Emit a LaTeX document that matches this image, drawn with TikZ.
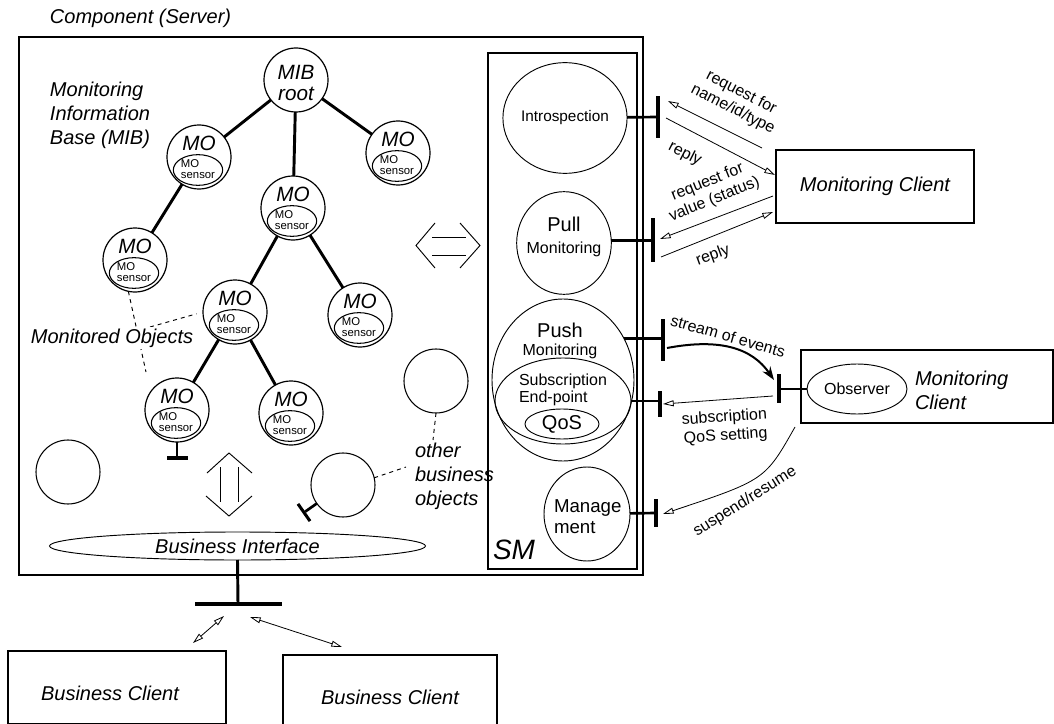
\documentclass[tikz,border=0pt]{standalone}
\usepackage{fontspec}
\setmainfont{Liberation Sans}
\usetikzlibrary{arrows.meta,shapes.geometric,calc}
\newcommand\moobj[3]{%
  \node[mocirc] (#1) at (#2,#3) {};
  \node[mosens] (#1s) at ($(#1.center)+(-1,13)$) {};
  \node[motxt] (#1t) at ($(#1.center)+(0,-14)$) {MO};
  \node[senstxt] (#1st) at ($(#1.center)+(-1,12)$) {MO\\sensor};
}
\begin{document}
\begin{tikzpicture}[x=0.75pt,y=-0.75pt,
  every node/.style={inner sep=0pt, outer sep=0pt},
  thinl/.style={line width=0.7pt},
  frame/.style={draw, line width=0.8pt, anchor=north west},
  bigit/.style={font=\fontsize{15}{18}\selectfont\itshape},
  mocirc/.style={circle, draw, line width=0.9pt, minimum size=48pt},
  plaincirc/.style={circle, draw, line width=0.8pt, minimum size=48pt},
  mosens/.style={ellipse, draw, line width=0.8pt, minimum width=37pt, minimum height=23pt},
  motxt/.style={font=\fontsize{15.5}{16}\selectfont\itshape, align=center},
  senstxt/.style={font=\fontsize{8.5}{8.3}\selectfont, align=left},
  branch/.style={line width=2.2pt},
  stem/.style={line width=2pt},
  tbar/.style={fill=black, minimum width=2.3pt},
  htbar/.style={fill=black, minimum height=2.3pt},
  smobj/.style={ellipse, draw, line width=0.7pt},
  bigf/.style={font=\fontsize{15}{16}\selectfont},
  midf/.style={font=\fontsize{12}{13}\selectfont},
  msg/.style={line width=0.6pt, -{Triangle[open,length=8pt,width=4.5pt]}},
  bmsg/.style={line width=0.6pt, {Triangle[open,length=8pt,width=4.5pt]}-{Triangle[open,length=8pt,width=4.5pt]}},
  lbl/.style={font=\fontsize{12}{14}\selectfont, align=center},
  dashl/.style={line width=0.7pt, dash pattern=on 3pt off 3pt}
]
\useasboundingbox (0,0) rectangle (1054,724);

% frames
\node[bigit, anchor=west] (complbl) at (50,18) {Component (Server)};
\node[frame, minimum width=468pt, minimum height=403.5pt] (comp) at (19,37) {};
\node[frame, minimum width=111.75pt, minimum height=387pt] (sm) at (488,53) {};
\node[font=\fontsize{21}{21}\selectfont\itshape] (smlbl) at (514,550) {SM};

% MIB label
\node[bigit, align=left, anchor=west] (miblbl) at (50,115) {Monitoring\\Information\\Base (MIB)};

% tree
\node[mocirc] (root) at (296,80) {};
\node[motxt] (roott) at (296,83) {MIB\\root};
\moobj{mo1}{199}{157}
\moobj{mo2}{398}{153}
\moobj{mo3}{293}{208}
\moobj{mo4}{135}{260}
\moobj{mo5}{235}{312}
\moobj{mo6}{360}{315}
\moobj{mo7}{177}{410}
\moobj{mo8}{291}{413}
\draw[branch] (root) -- (mo1);
\draw[branch] (root) -- (mo2);
\draw[branch] (root) -- (mo3);
\draw[branch] (mo1) -- (mo4);
\draw[branch] (mo3) -- (mo5);
\draw[branch] (mo3) -- (mo6);
\draw[branch] (mo5) -- (mo7);
\draw[branch] (mo5) -- (mo8);

% monitored objects label and dashed links
\coordinate (mA) at (146,372);
\coordinate (mB) at (150,327);
\draw[dashl] (mo4.258) -- (mA);
\draw[dashl, shorten >=5pt] (mB) -- (mo5.west);
\node[bigit, fill=white, inner sep=1pt] (molbl) at (112,338) {Monitored Objects};

% T under mo7
\node[htbar, minimum width=15.75pt] (mo7b) at (177,458) {};
\draw[stem] (mo7.south) -- (mo7b);

% other business objects
\node[plaincirc] (ob1) at (68,472) {};
\node[plaincirc] (ob2) at (343,485) {};
\node[plaincirc] (ob3) at (436,381) {};
\node[bigit, align=left, anchor=north west] (oblbl) at (415,443) {other\\business\\objects};
\coordinate (oA) at (433,440);
\coordinate (oB) at (406,467);
\draw[dashl] (ob3.south) -- (oA);
\draw[dashl] (ob2.13) -- (oB);
\node[tbar, minimum height=15.75pt, rotate=35] (ob2b) at (304,512.5) {};
\draw[stem] (ob2) -- (ob2b);

% double arrows
\draw[thinl] (435,223) -- (416,245.5) -- (435,268);
\draw[thinl] (460,223) -- (480,245.5) -- (460,268);
\draw[thinl] (432,237) -- (466,237);
\draw[thinl] (432,255) -- (466,255);
\draw[thinl] (207,473) -- (229,453) -- (252,473);
\draw[thinl] (206,496) -- (229,516) -- (252,496);
\draw[thinl] (220,467) -- (220,502);
\draw[thinl] (238,467) -- (238,502);

% business interface
\node[ellipse, draw, line width=0.7pt, minimum width=282pt, minimum height=21pt, font=\fontsize{15}{16}\selectfont\itshape] (bi) at (237.5,546) {Business Interface};
\node[htbar, minimum width=65.25pt, minimum height=2.6pt] (bib) at (238,604) {};
\draw[line width=2.2pt] (bi.south) -- (bib.center);

% business clients
\node[frame, minimum width=163.5pt, minimum height=54.4pt] (bc1) at (8,651) {};
\node[bigit] (bc1t) at (110,693) {Business Client};
\node[frame, minimum width=160.5pt, minimum height=52pt] (bc2) at (283,655) {};
\node[bigit] (bc2t) at (390,697) {Business Client};
\coordinate (b1a) at (224,616);
\coordinate (b1b) at (193,643);
\coordinate (b2a) at (250,617);
\coordinate (b2b) at (342,647);
\draw[bmsg] (b1a) -- (b1b);
\draw[bmsg] (b2a) -- (b2b);

% SM services
\node[smobj, minimum width=78pt, minimum height=83pt, font=\fontsize{11.5}{12}\selectfont] (intro) at (565,118) {Introspection};
\node[smobj, minimum width=71pt, minimum height=77pt] (pull) at (564,243) {};
\node[bigf] (pullt1) at (564,224) {Pull};
\node[midf] (pullt2) at (564,249) {Monitoring};
\node[smobj, minimum width=106.5pt, minimum height=121.5pt] (push) at (563,380) {};
\node[bigf] (pusht1) at (560,330) {Push};
\node[midf] (pusht2) at (560,351) {Monitoring};
\node[smobj, minimum width=102pt, minimum height=64.5pt] (sub) at (563,401) {};
\node[align=left, anchor=west, font=\fontsize{12}{12.75}\selectfont] (subt) at (519,389.5) {Subscription\\End-point};
\node[smobj, minimum width=55.5pt, minimum height=22.5pt, font=\fontsize{15}{16}\selectfont] (qos) at (562,424) {QoS};
\node[smobj, minimum width=64.5pt, minimum height=70.5pt] (mgmt) at (587,514) {};
\node[align=left, anchor=west, font=\fontsize{14}{15.75}\selectfont] (mgmtt) at (554,516.5) {Manage\\ment};

% T bars of SM
\node[tbar, minimum height=32pt] (ib) at (658,117) {};
\draw[stem] (intro) -- (ib);
\node[tbar, minimum height=33pt] (pb) at (653,240) {};
\draw[stem] (pull.3) -- (pull.3 -| pb.center);
\node[tbar, minimum height=32pt] (pushb) at (663,340) {};
\draw[stem] (push.34) -- (push.34 -| pushb.center);
\node[tbar, minimum height=20pt] (subb) at (660,404) {};
\draw[stem] (sub.east) -- (sub.east -| subb.center);
\node[tbar, minimum height=21pt] (mb) at (656,513) {};
\draw[stem] (mgmt) -- (mb);

% monitoring clients
\node[frame, minimum width=148.5pt, minimum height=54.75pt, font=\fontsize{15}{16}\selectfont\itshape, anchor=center] (mc1) at (875,186.5) {Monitoring Client};
\node[frame, minimum width=189pt, minimum height=54.75pt] (mc2) at (801,350) {};
\node[bigit, align=left, anchor=west] (mc2t) at (915,390) {Monitoring\\Client};
\node[smobj, minimum width=75pt, minimum height=37.5pt, font=\fontsize{12}{13}\selectfont] (obs) at (857,389) {Observer};
\node[tbar, minimum height=21.75pt] (obsb) at (779,388) {};
\draw[stem] (obs.west) -- (obs.west -| obsb.center);

% messages
\coordinate (r1a) at (762,148);
\coordinate (r1b) at (668,101);
\coordinate (r2a) at (666,118);
\coordinate (r2b) at (775,175);
\coordinate (r3a) at (773,196);
\coordinate (r3b) at (660,239);
\coordinate (r4a) at (661,257);
\coordinate (r4b) at (773,212);
\coordinate (s1) at (667,348);
\coordinate (s2) at (774,380);
\coordinate (q1) at (773,396);
\coordinate (q2) at (663,404);
\coordinate (u1) at (795,427);
\coordinate (u2) at (663,514);
\draw[msg] (r1a) -- (r1b);
\draw[msg] (r2a) -- (r2b);
\draw[msg] (r3a) -- (r3b);
\draw[msg] (r4a) -- (r4b);
\draw[line width=1.5pt, -{Stealth[length=10pt,width=7pt]}] (s1) .. controls (720,338) and (752,348) .. (s2);
\draw[msg] (q1) -- (q2);
\draw[msg] (u1) .. controls (765,480) .. (u2);

\node[lbl, rotate=-27] (l1) at (737,101) {request for\\name/id/type};
\node[lbl, rotate=-27] (l2) at (685,154) {reply};
\node[lbl, rotate=22] (l3) at (711,191) {request for\\value (status)};
\node[lbl, rotate=20] (l4) at (713,256) {reply};
\node[lbl, rotate=-16] (l5) at (728,336) {stream of events};
\node[lbl, rotate=4] (l6) at (725,427) {subscription\\QoS setting};
\node[lbl, rotate=32] (l7) at (745,502) {suspend/resume};
\end{tikzpicture}
\end{document}
